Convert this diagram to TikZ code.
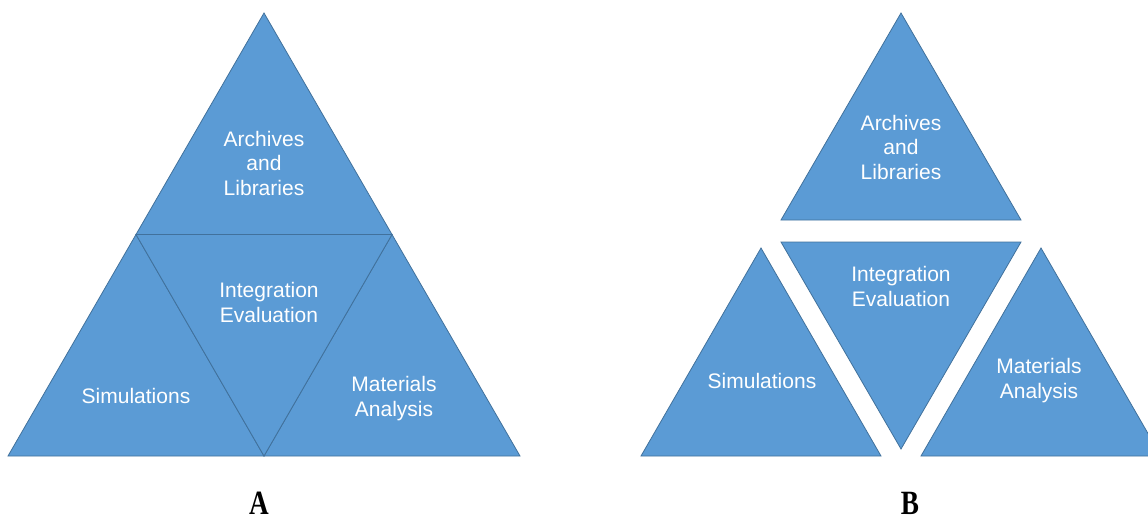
\documentclass[tikz,border=0pt]{standalone}
\usepackage{fontspec}
\setmainfont{Liberation Sans}
\newfontfamily\labelfont{Liberation Serif}
\definecolor{trifill}{HTML}{5B9BD5}
\definecolor{triedge}{HTML}{41719C}
\begin{document}
\begin{tikzpicture}[x=1pt,y=-1pt,
  tri/.style={fill=trifill,draw=triedge,line width=0.8pt,line join=miter},
  txt/.style={text=white,align=center,font=\fontsize{21}{24.5}\selectfont,inner sep=0pt},
  panellabel/.style={font=\labelfont\bfseries\fontsize{34}{34}\selectfont,inner sep=0pt,anchor=base}]
\useasboundingbox (0,0) rectangle (1148,522);
% ---- Panel A ----
\coordinate (aTop) at (264,13);
\coordinate (aL) at (8,456);
\coordinate (aR) at (520,456);
\coordinate (aML) at (136,234.5);
\coordinate (aMR) at (392,234.5);
\coordinate (aMB) at (264,456);
\draw[tri] (aTop) -- (aMR) -- (aML) -- cycle;
\draw[tri] (aML) -- (aMB) -- (aL) -- cycle;
\draw[tri] (aMR) -- (aR) -- (aMB) -- cycle;
\draw[tri] (aML) -- (aMR) -- (aMB) -- cycle;
\node[txt] (aArch) at (264,163) {Archives\\and\\Libraries};
\node[txt] (aInt) at (269,302.5) {Integration\\Evaluation};
\node[txt] (aSim) at (136,396) {Simulations};
\node[txt] (aMat) at (394,398.5) {Materials\\Analysis};
% ---- Panel B ----
\draw[tri] (901,13) -- (1021,220) -- (781,220) -- cycle;
\draw[tri] (781,242) -- (1021,242) -- (901,449) -- cycle;
\draw[tri] (761,248) -- (881,456) -- (641,456) -- cycle;
\begin{scope}
\clip (900,0) rectangle (1148,522);
\draw[tri] (1041,248) -- (1161,456) -- (921,456) -- cycle;
\end{scope}
\node[txt] (bArch) at (901,147) {Archives\\and\\Libraries};
\node[txt] (bInt) at (901,286.5) {Integration\\Evaluation};
\node[txt] (bSim) at (762,381) {Simulations};
\node[txt] (bMat) at (1039,380.5) {Materials\\Analysis};
% ---- labels ----
\node[panellabel] (labA) at (259,514) {\scalebox{0.8}[1]{A}};
\node[panellabel] (labB) at (910,514) {\scalebox{0.8}[1]{B}};
\end{tikzpicture}
\end{document}
